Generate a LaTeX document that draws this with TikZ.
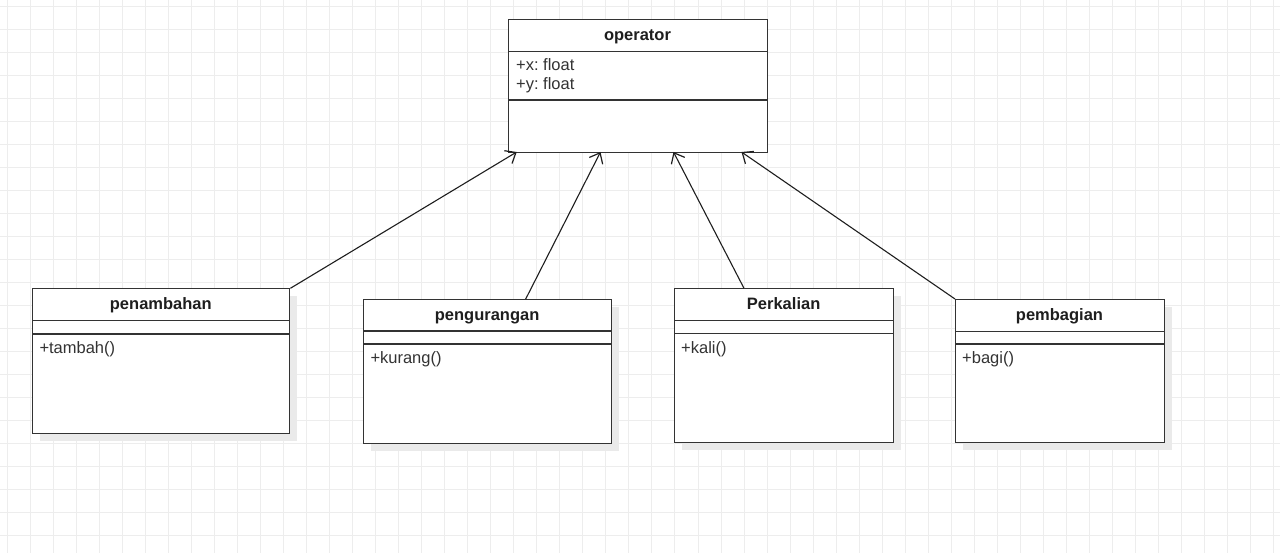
\documentclass[tikz,border=0pt]{standalone}
\usepackage{fontspec}
\setmainfont{Liberation Sans}
\usetikzlibrary{arrows.meta,calc}
\frenchspacing
\definecolor{gridc}{HTML}{EDEDED}
\definecolor{edgec}{HTML}{333333}
\definecolor{txtc}{HTML}{1E1E1E}
\definecolor{bodyc}{HTML}{333333}
\definecolor{shadowc}{HTML}{EAEAEA}
\tikzset{
  classbox/.style={draw=edgec, fill=white, line width=1.1pt, inner sep=0pt, rectangle},
  divider/.style={draw=edgec, line width=1.1pt},
  titletext/.style={font=\fontsize{16.5}{19}\selectfont\bfseries, text=txtc, inner sep=0pt, anchor=base},
  bodytext/.style={font=\fontsize{16.5}{19}\selectfont, text=bodyc, inner sep=0pt},
  conn/.style={draw=txtc, line width=1.1pt, -{Straight Barb[length=9pt,width=15pt,line width=1.2pt]}},
  gridline/.style={draw=gridc, line width=0.8pt},
}
% name, left, top, right, div1, div2, bottom, title
\newcommand{\umlcls}[8]{%
  \fill[shadowc] (#2+8,#3+8) rectangle (#4+8,#7+8);
  \node[classbox, minimum width=#4-#2, minimum height=#7-#3, anchor=north west] (#1) at (#2,#3) {};
  \draw[divider] (#2,#5) -- (#4,#5) (#2,#6) -- (#4,#6);
  \node[titletext] (#1-title) at ({(#2+#4)/2},{(#3+#5)/2+5.3}) {#8};
}
\begin{document}
\begin{tikzpicture}[x=1pt,y=-1pt]
\useasboundingbox (0,0) rectangle (1280,553);
\fill[white] (0,0) rectangle (1280,553);
% grid
\foreach \i in {0,...,55} \draw[gridline] ({7.3+23.02*\i},0) -- ({7.3+23.02*\i},553);
\foreach \j in {0,...,23} \draw[gridline] (0,{6.7+23*\j}) -- (1280,{6.7+23*\j});

% operator (no visible shadow)
\node[classbox, minimum width=258.4, minimum height=133, anchor=north west] (op) at (508.3,19) {};
\draw[divider] (508.3,51.7) -- (766.7,51.7) (508.3,100) -- (766.7,100);
\node[titletext] (op-title) at (637.5,40.8) {operator};
\node[bodytext, anchor=base west] (op-a1) at (516,71) {+x: float};
\node[bodytext, anchor=base west] (op-a2) at (516,90) {+y: float};

% children
\umlcls{pen}{32.3}{288.3}{289.3}{320.7}{334}{433.3}{penambahan}
\node[bodytext, anchor=base west] (pen-m) at (39.3,353.3) {+tambah()};

\umlcls{peng}{363.3}{299}{611}{331}{344}{443.3}{pengurangan}
\node[bodytext, anchor=base west] (peng-m) at (370.3,363.3) {+kurang()};

\umlcls{kal}{674}{288.3}{893.3}{320.7}{333.3}{442.3}{Perkalian}
\node[bodytext, anchor=base west] (kal-m) at (681,353.3) {+kali()};

\umlcls{bag}{955}{299}{1164}{331.7}{344}{442.3}{pembagian}
\node[bodytext, anchor=base west] (bag-m) at (962,363.3) {+bagi()};

% arrow ends on operator bottom and starts on child tops
\coordinate (opA) at (516.7,152);
\coordinate (opB) at (600.5,152);
\coordinate (opC) at (673.5,152);
\coordinate (opD) at (741.5,152);
\coordinate (pengT) at (525.7,299);
\coordinate (kalT) at (744,288.3);

\draw[conn] (pen.north east) -- (opA);
\draw[conn] (pengT) -- (opB);
\draw[conn] (kalT) -- (opC);
\draw[conn] (bag.north west) -- (opD);
\end{tikzpicture}
\end{document}
